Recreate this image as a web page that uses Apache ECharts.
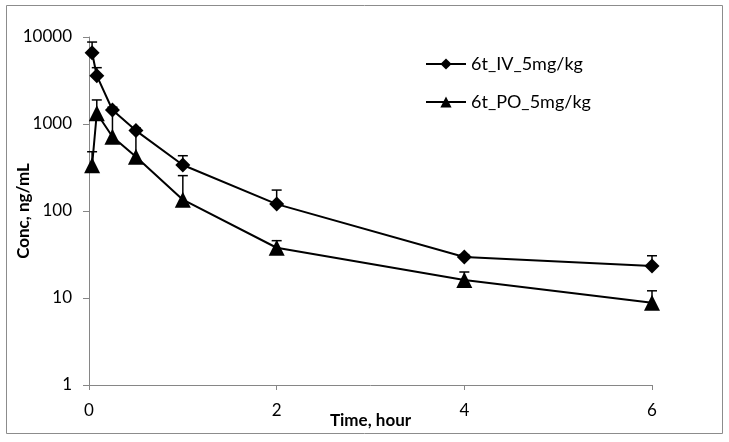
<!DOCTYPE html>
<html><head><meta charset="utf-8">
<script src="https://cdn.jsdelivr.net/npm/echarts@6/dist/echarts.min.js"></script>
<style>html,body{margin:0;padding:0;background:#fff}#c{width:729px;height:442px}</style>
</head><body><div id="c"></div>
<script>
var times = [0.033, 0.083, 0.25, 0.5, 1, 2, 4, 6];
var ivMean = [6600, 3590, 1450, 840, 338, 120, 29.6, 23.3];
var ivUpper = [8750, 4440, 1560, 900, 432, 174, 31.5, 30.6];
var poMean = [335, 1330, 714, 421, 135, 37.8, 16.1, 8.8];
var poUpper = [480, 1890, 1400, 800, 255, 45.6, 19.9, 12.1];
var xTicks = [0, 2, 4, 6];
var yTicks = [1, 10, 100, 1000, 10000];
var names = ['6t_IV_5mg/kg', '6t_PO_5mg/kg'];

function pairs(a){ return times.map(function(t,i){ return [t, a[i]]; }); }
function errData(m,u){ return times.map(function(t,i){ return [t, m[i], u[i]]; }); }
function errRender(params, api){
  var p0 = api.coord([api.value(0), api.value(1)]);
  var p1 = api.coord([api.value(0), api.value(2)]);
  var w = 5;
  return {type:'group', children:[
    {type:'line', shape:{x1:p0[0], y1:p0[1], x2:p1[0], y2:p1[1]}, style:{stroke:'#000', lineWidth:1.5}},
    {type:'line', shape:{x1:p1[0]-w, y1:p1[1], x2:p1[0]+w, y2:p1[1]}, style:{stroke:'#000', lineWidth:1.5}}
  ]};
}
var font = 'Lato, "Open Sans", sans-serif';
var chart = echarts.init(document.getElementById('c'));
chart.setOption({
  animation:false,
  backgroundColor:'#fff',
  graphic:[{type:'rect', shape:{x:6.5, y:5.5, width:716, height:428}, style:{fill:'none', stroke:'#8c8c8c', lineWidth:1}}],
  grid:{left:89, right:77, top:37, bottom:57, containLabel:false, outerBoundsMode:'none'},
  legend:{
    data:names, orient:'vertical', left:420, top:50, itemGap:20,
    itemWidth:40, itemHeight:14,
    textStyle:{fontFamily:font, fontSize:18, color:'#000'}
  },
  xAxis:{
    type:'value', min:0, max:6, interval:2,
    name:'Time, hour', nameLocation:'middle', nameGap:27, nameMoveOverlap:false,
    nameTextStyle:{fontFamily:font, fontSize:17, fontWeight:'bold', color:'#000'},
    axisLine:{lineStyle:{color:'#868686', width:1}},
    axisTick:{show:true, length:5, lineStyle:{color:'#868686'}},
    axisLabel:{fontFamily:font, fontSize:17, color:'#000', margin:17,
      formatter:function(v){ return xTicks.indexOf(v)>=0 ? String(v) : ''; }},
    splitLine:{show:false}
  },
  yAxis:{
    type:'log', logBase:10, min:1, max:10000,
    name:'Conc, ng/mL', nameLocation:'middle', nameGap:57, nameRotate:90, nameMoveOverlap:false,
    nameTextStyle:{fontFamily:font, fontSize:17, fontWeight:'bold', color:'#000'},
    axisLine:{show:true, lineStyle:{color:'#868686', width:1}},
    axisTick:{show:true, length:6, lineStyle:{color:'#868686'}},
    axisLabel:{fontFamily:font, fontSize:17, color:'#000', margin:17,
      formatter:function(v){ return yTicks.indexOf(Math.round(v))>=0 ? String(Math.round(v)) : ''; }},
    splitLine:{show:false}
  },
  series:[
    {type:'custom', renderItem:errRender, data:errData(ivMean, ivUpper), z:1, silent:true},
    {type:'custom', renderItem:errRender, data:errData(poMean, poUpper), z:1, silent:true},
    {name:names[0], type:'line', data:pairs(ivMean), symbol:'diamond', symbolSize:15,
      lineStyle:{color:'#000', width:2}, itemStyle:{color:'#000'}, z:3},
    {name:names[1], type:'line', data:pairs(poMean), symbol:'triangle', symbolSize:16,
      lineStyle:{color:'#000', width:2}, itemStyle:{color:'#000'}, z:3}
  ]
});
</script></body></html>
